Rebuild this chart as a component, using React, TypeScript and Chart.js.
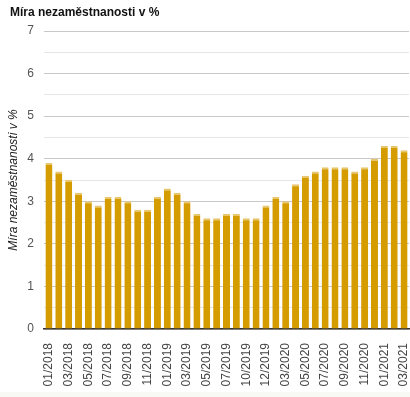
import React, { useEffect, useRef } from "react";
import { Chart, registerables } from "chart.js";

Chart.register(...registerables);

const months: string[] = [
  "01/2018", "02/2018", "03/2018", "04/2018", "05/2018", "06/2018", "07/2018", "08/2018",
  "09/2018", "10/2018", "11/2018", "12/2018", "01/2019", "02/2019", "03/2019", "04/2019",
  "05/2019", "06/2019", "07/2019", "08/2019", "10/2019", "11/2019", "12/2019", "01/2020",
  "03/2020", "04/2020", "05/2020", "06/2020", "07/2020", "08/2020", "09/2020", "10/2020",
  "11/2020", "12/2020", "01/2021", "02/2021", "03/2021",
];

const unemployment: number[] = [
  3.9, 3.7, 3.5, 3.2, 3.0, 2.9, 3.1, 3.1, 3.0, 2.8, 2.8, 3.1, 3.3, 3.2, 3.0, 2.7,
  2.6, 2.6, 2.7, 2.7, 2.6, 2.6, 2.9, 3.1, 3.0, 3.4, 3.6, 3.7, 3.8, 3.8, 3.8, 3.7,
  3.8, 4.0, 4.3, 4.3, 4.2,
];

const titleText = "Míra nezaměstnanosti v %";
const axisTitle = "Míra nezaměstnanosti v %";
const FONT = "'Liberation Sans', Arial, sans-serif";

export default function App() {
  const ref = useRef<HTMLCanvasElement | null>(null);

  useEffect(() => {
    if (!ref.current) return;
    const chart = new Chart(ref.current, {
      type: "bar",
      data: {
        labels: months,
        datasets: [
          {
            data: unemployment,
            backgroundColor: "#d59c00",
            borderColor: "#e8c66e",
            borderWidth: { top: 2, left: 0, right: 0, bottom: 0 },
            borderSkipped: "bottom",
            barPercentage: 0.71,
            categoryPercentage: 1,
          },
        ],
      },
      options: {
        animation: false,
        responsive: false,
        maintainAspectRatio: false,
        layout: { padding: { left: 10, right: 1, top: 1, bottom: 0 } },
        plugins: {
          legend: { display: false },
          tooltip: { enabled: false },
          title: {
            display: true,
            text: titleText,
            align: "start",
            color: "#111",
            font: { family: FONT, size: 12, weight: "bold" },
            padding: { top: 4, bottom: 11.6 },
          },
        },
        scales: {
          x: {
            grid: { display: false, drawTicks: false },
            border: { display: true, color: "#333", width: 1.5 },
            afterFit: (s: any) => {
              s.height = 63;
              s.paddingLeft = 0;
              s.paddingRight = 0;
            },
            ticks: {
              autoSkip: false,
              maxRotation: 90,
              minRotation: 90,
              color: "#444",
              padding: 14,
              font: { family: FONT, size: 12 },
              callback: (_v: any, i: number) => (i % 2 === 0 ? months[i] : ""),
            },
          },
          y: {
            min: 0,
            max: 7,
            border: { display: false },
            afterFit: (s: any) => {
              s.width = 34;
              s.paddingTop = 0;
              s.paddingBottom = 0;
            },
            grid: {
              drawTicks: false,
              color: (ctx: any) =>
                ctx.tick && Number.isInteger(ctx.tick.value) ? "#c8c8c8" : "#e6e6e6",
            },
            ticks: {
              stepSize: 0.5,
              color: "#555",
              padding: 10,
              font: { family: FONT, size: 12 },
              callback: (v: any) => (Number.isInteger(v) ? String(v) : ""),
            },
            title: {
              display: true,
              text: axisTitle,
              color: "#222",
              font: { family: FONT, size: 12, style: "italic" },
              padding: { top: -4, bottom: 0 },
            },
          },
        },
      },
    });
    return () => chart.destroy();
  }, []);

  return (
    <div
      style={{
        position: "fixed",
        left: 0,
        top: 0,
        width: 410,
        height: 397,
        background: "#f8f8f5",
      }}
    >
      <div style={{ width: 410, height: 392, background: "#fff" }}>
        <canvas ref={ref} width={410} height={392} style={{ display: "block" }} />
      </div>
    </div>
  );
}
